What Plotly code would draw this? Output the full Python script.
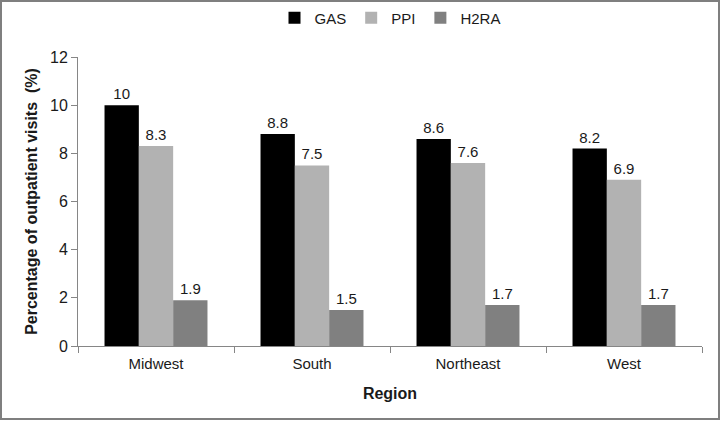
import plotly.graph_objects as go

regions = ["Midwest", "South", "Northeast", "West"]
gas = [10, 8.8, 8.6, 8.2]
ppi = [8.3, 7.5, 7.6, 6.9]
h2ra = [1.9, 1.5, 1.7, 1.7]

FONT = "Liberation Sans, Arial, sans-serif"
AXIS_GREY = "#868686"

series = [
    ("GAS", gas, "#000000"),
    ("PPI", ppi, "#b2b2b2"),
    ("H2RA", h2ra, "#808080"),
]

fig = go.Figure()
for name, vals, col in series:
    fig.add_trace(go.Bar(
        x=regions, y=vals, name=name,
        marker=dict(color=col, line=dict(width=0)),
        text=[f"{v:g}" for v in vals], textposition="outside",
        textfont=dict(size=15, color="#1a1a1a", family=FONT),
        cliponaxis=False,
    ))

# plot area: 624 x 289 px
fig.update_layout(
    width=721, height=421,
    paper_bgcolor="white", plot_bgcolor="white",
    barmode="group", bargap=0.34, bargroupgap=0,
    margin=dict(l=78, r=19, t=57, b=75, autoexpand=False),
    font=dict(family=FONT, color="#1a1a1a", size=15),
    showlegend=True,
    legend=dict(orientation="h", x=0.5, xref="paper", xanchor="center",
                y=1 + 39 / 289, yanchor="middle", bgcolor="rgba(0,0,0,0)",
                font=dict(size=15), traceorder="normal", itemwidth=30),
    xaxis=dict(
        automargin=False,
        showline=True, linecolor=AXIS_GREY, linewidth=1,
        ticks="outside", tickcolor=AXIS_GREY, ticklen=6, tickson="boundaries",
        tickfont=dict(size=15), ticklabelstandoff=4,
        title=dict(text="<b>Region</b>", font=dict(size=16), standoff=16),
    ),
    yaxis=dict(
        automargin=False,
        range=[0, 12], dtick=2, showgrid=False, zeroline=False,
        showline=True, linecolor=AXIS_GREY, linewidth=1,
        ticks="outside", tickcolor=AXIS_GREY, ticklen=6,
        tickfont=dict(size=16),
        title=dict(text="<b>Percentage of outpatient visits  (%)</b>",
                   font=dict(size=16), standoff=8),
    ),
    shapes=[dict(type="rect", xref="paper", yref="paper",
                 x0=-77 / 624, x1=1 + 17 / 624, y0=-73 / 289, y1=1 + 56 / 289,
                 line=dict(color="#7f7f7f", width=2))],
)

fig.write_html("out.html", config={"displayModeBar": False},
               post_script="document.body.style.margin='0';")
